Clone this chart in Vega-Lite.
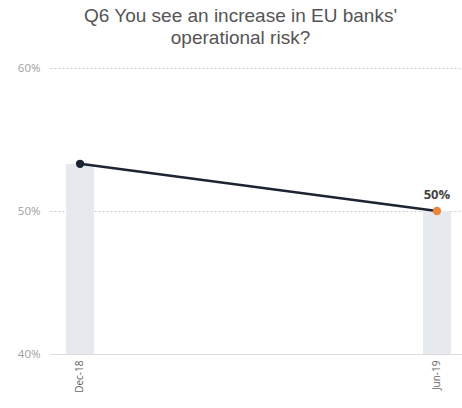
{
  "$schema": "https://vega.github.io/schema/vega-lite/v6.json",
  "autosize": {"type": "none"},
  "width": 417,
  "height": 286,
  "padding": {"left": 50, "top": 68, "right": 0, "bottom": 54},
  "title": {
    "text": ["Q6 You see an increase in EU banks'", "operational risk?"],
    "fontSize": 19,
    "fontWeight": "normal",
    "font": "Liberation Sans",
    "color": "#555555",
    "lineHeight": 22,
    "anchor": "middle",
    "dx": -18,
    "offset": 14
  },
  "config": {
    "view": {"stroke": null},
    "font": "Open Sans"
  },
  "data": {
    "values": [
      {"period": "Dec-18", "value": 0.533, "label": ""},
      {"period": "Jun-19", "value": 0.50, "label": "50%"}
    ]
  },
  "encoding": {
    "x": {
      "field": "period",
      "type": "ordinal",
      "sort": null,
      "scale": {"paddingInner": 0.9216, "paddingOuter": 0.045},
      "axis": {
        "title": null,
        "labelAngle": 270,
        "labelFontSize": 10,
        "labelColor": "#666666",
        "ticks": false,
        "labelPadding": 6,
        "domainColor": "#dddddd",
        "domainWidth": 1
      }
    },
    "y": {
      "field": "value",
      "type": "quantitative",
      "scale": {"domain": [0.4, 0.6]},
      "axis": {
        "title": null,
        "format": ".0%",
        "values": [0.4, 0.5, 0.6],
        "ticks": false,
        "domain": false,
        "labelFontSize": 11.5,
        "labelColor": "#a0a0a0",
        "labelPadding": 10,
        "gridColor": "#cccccc",
        "gridDash": [2, 2]
      }
    }
  },
  "layer": [
    {"mark": {"type": "bar", "color": "#e6e9ed", "clip": true}, "encoding": {"y2": {"datum": 0.4}}},
    {"mark": {"type": "line", "color": "#1c2333", "strokeWidth": 2.5}},
    {
      "mark": {"type": "circle", "size": 70, "opacity": 1},
      "encoding": {
        "color": {
          "field": "period",
          "type": "nominal",
          "scale": {"domain": ["Dec-18", "Jun-19"], "range": ["#1c2333", "#e8873a"]},
          "legend": null
        }
      }
    },
    {
      "mark": {"type": "text", "dy": -16, "fontSize": 13, "color": "#444444", "fontWeight": "bold"},
      "encoding": {"text": {"field": "label"}}
    }
  ]
}
